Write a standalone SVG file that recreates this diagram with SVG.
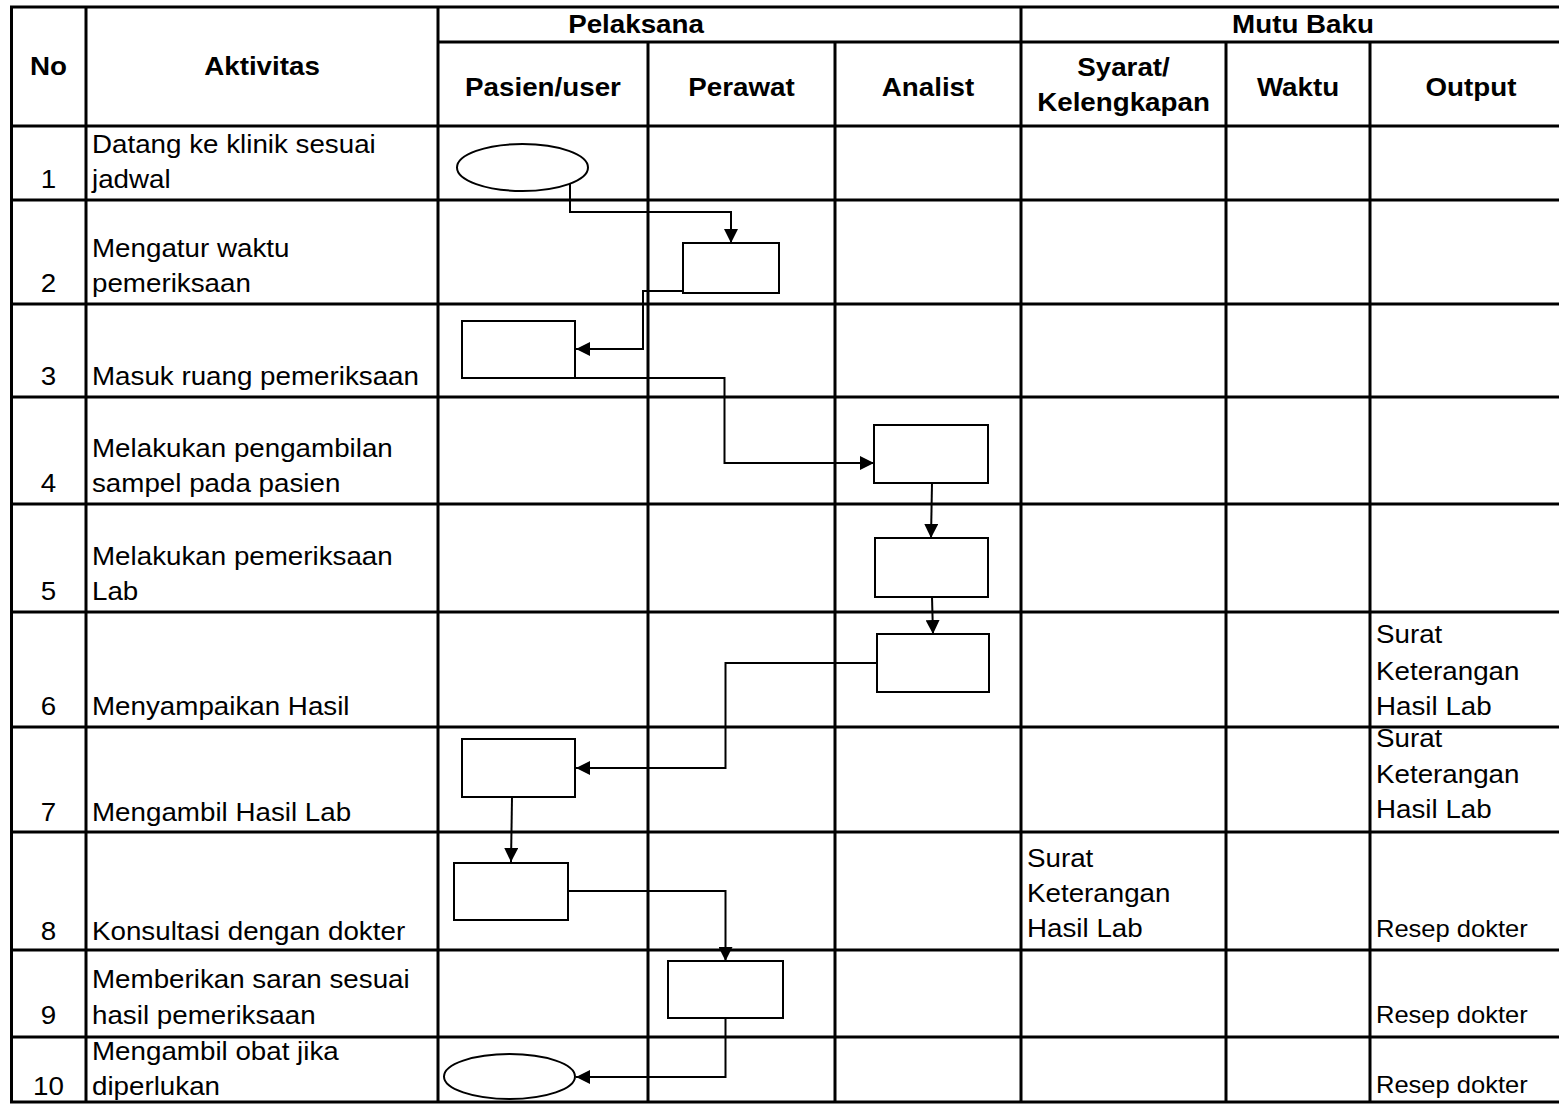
<svg xmlns="http://www.w3.org/2000/svg" width="1559" height="1104" viewBox="0 0 1559 1104">
<style>
.t{font-family:"Liberation Sans",Arial,sans-serif;font-size:25px;fill:#000}
.b{font-weight:bold}
.m{text-anchor:middle}
.s{font-size:23px}
.grid line{stroke:#000;stroke-width:3}
.shape{fill:#fff;stroke:#000;stroke-width:2}
.conn path{fill:none;stroke:#000;stroke-width:2}
</style>
<defs>
<marker id="arr" markerUnits="userSpaceOnUse" markerWidth="14" markerHeight="14" refX="14" refY="7" orient="auto">
<path d="M0,0 L14,7 L0,14 z" fill="#000"/>
</marker>
</defs>
<rect width="1559" height="1104" fill="#fff"/>
<g id="grid" class="grid">
<line x1="10" y1="7" x2="1559" y2="7"/>
<line x1="438" y1="42" x2="1559" y2="42"/>
<line x1="10" y1="126" x2="1559" y2="126"/>
<line x1="10" y1="200" x2="1559" y2="200"/>
<line x1="10" y1="304" x2="1559" y2="304"/>
<line x1="10" y1="397" x2="1559" y2="397"/>
<line x1="10" y1="504" x2="1559" y2="504"/>
<line x1="10" y1="612" x2="1559" y2="612"/>
<line x1="10" y1="727" x2="1559" y2="727"/>
<line x1="10" y1="832" x2="1559" y2="832"/>
<line x1="10" y1="950" x2="1559" y2="950"/>
<line x1="10" y1="1037" x2="1559" y2="1037"/>
<line x1="10" y1="1102" x2="1559" y2="1102"/>
<line x1="11.5" y1="6" x2="11.5" y2="1103"/>
<line x1="86" y1="6" x2="86" y2="1103"/>
<line x1="438" y1="6" x2="438" y2="1103"/>
<line x1="648" y1="42" x2="648" y2="1103"/>
<line x1="835" y1="42" x2="835" y2="1103"/>
<line x1="1021" y1="6" x2="1021" y2="1103"/>
<line x1="1226" y1="42" x2="1226" y2="1103"/>
<line x1="1370" y1="42" x2="1370" y2="1103"/>
</g>
<g id="header">
<text class="t b m" transform="translate(48.5,75) scale(1.11,1)">No</text>
<text class="t b m" transform="translate(262,75) scale(1.11,1)">Aktivitas</text>
<text class="t b m" transform="translate(636,33) scale(1.11,1)">Pelaksana</text>
<text class="t b m" transform="translate(1303,33) scale(1.11,1)">Mutu Baku</text>
<text class="t b m" transform="translate(543,96) scale(1.11,1)">Pasien/user</text>
<text class="t b m" transform="translate(741.5,96) scale(1.11,1)">Perawat</text>
<text class="t b m" transform="translate(928,96) scale(1.11,1)">Analist</text>
<text class="t b m" transform="translate(1123.5,76) scale(1.11,1)">Syarat/</text>
<text class="t b m" transform="translate(1123.5,111) scale(1.11,1)">Kelengkapan</text>
<text class="t b m" transform="translate(1298,96) scale(1.11,1)">Waktu</text>
<text class="t b m" transform="translate(1471,96) scale(1.11,1)">Output</text>
</g>
<g id="numbers">
<text class="t m" transform="translate(48.5,188) scale(1.11,1)">1</text>
<text class="t m" transform="translate(48.5,292) scale(1.11,1)">2</text>
<text class="t m" transform="translate(48.5,385) scale(1.11,1)">3</text>
<text class="t m" transform="translate(48.5,492) scale(1.11,1)">4</text>
<text class="t m" transform="translate(48.5,600) scale(1.11,1)">5</text>
<text class="t m" transform="translate(48.5,715) scale(1.11,1)">6</text>
<text class="t m" transform="translate(48.5,821) scale(1.11,1)">7</text>
<text class="t m" transform="translate(48.5,940) scale(1.11,1)">8</text>
<text class="t m" transform="translate(48.5,1024) scale(1.11,1)">9</text>
<text class="t m" transform="translate(48.5,1095) scale(1.11,1)">10</text>
</g>
<g id="activities">
<text class="t" transform="translate(92,153) scale(1.11,1)">Datang ke klinik sesuai</text>
<text class="t" transform="translate(92,188) scale(1.11,1)">jadwal</text>
<text class="t" transform="translate(92,257) scale(1.11,1)">Mengatur waktu</text>
<text class="t" transform="translate(92,292) scale(1.11,1)">pemeriksaan</text>
<text class="t" transform="translate(92,385) scale(1.11,1)">Masuk ruang pemeriksaan</text>
<text class="t" transform="translate(92,457) scale(1.11,1)">Melakukan pengambilan</text>
<text class="t" transform="translate(92,492) scale(1.11,1)">sampel pada pasien</text>
<text class="t" transform="translate(92,565) scale(1.11,1)">Melakukan pemeriksaan</text>
<text class="t" transform="translate(92,600) scale(1.11,1)">Lab</text>
<text class="t" transform="translate(92,715) scale(1.11,1)">Menyampaikan Hasil</text>
<text class="t" transform="translate(92,821) scale(1.11,1)">Mengambil Hasil Lab</text>
<text class="t" transform="translate(92,940) scale(1.11,1)">Konsultasi dengan dokter</text>
<text class="t" transform="translate(92,988) scale(1.11,1)">Memberikan saran sesuai</text>
<text class="t" transform="translate(92,1024) scale(1.11,1)">hasil pemeriksaan</text>
<text class="t" transform="translate(92,1060) scale(1.11,1)">Mengambil obat jika</text>
<text class="t" transform="translate(92,1095) scale(1.11,1)">diperlukan</text>
</g>
<g id="standards">
<text class="t" transform="translate(1376,643) scale(1.11,1)">Surat</text>
<text class="t" transform="translate(1376,680) scale(1.11,1)">Keterangan</text>
<text class="t" transform="translate(1376,715) scale(1.11,1)">Hasil Lab</text>
<text class="t" transform="translate(1376,747) scale(1.11,1)">Surat</text>
<text class="t" transform="translate(1376,783) scale(1.11,1)">Keterangan</text>
<text class="t" transform="translate(1376,818) scale(1.11,1)">Hasil Lab</text>
<text class="t" transform="translate(1027,867) scale(1.11,1)">Surat</text>
<text class="t" transform="translate(1027,902) scale(1.11,1)">Keterangan</text>
<text class="t" transform="translate(1027,937) scale(1.11,1)">Hasil Lab</text>
<text class="t s" transform="translate(1376,937) scale(1.11,1)">Resep dokter</text>
<text class="t s" transform="translate(1376,1023) scale(1.11,1)">Resep dokter</text>
<text class="t s" transform="translate(1376,1093) scale(1.11,1)">Resep dokter</text>
</g>
<g id="connectors" class="conn">
<path d="M570,184 V212 H731 V243" marker-end="url(#arr)"/>
<path d="M683,291 H643 V349 H576" marker-end="url(#arr)"/>
<path d="M575,378 H724.5 V463 H874" marker-end="url(#arr)"/>
<path d="M932,483 L931,538" marker-end="url(#arr)"/>
<path d="M932,597 L933,634" marker-end="url(#arr)"/>
<path d="M877,663 H725.5 V768 H576" marker-end="url(#arr)"/>
<path d="M512,797 L511,862" marker-end="url(#arr)"/>
<path d="M568,891 H725.5 V961" marker-end="url(#arr)"/>
<path d="M725.5,1018 V1077 H576" marker-end="url(#arr)"/>
</g>
<g id="n1"><ellipse class="shape" cx="522.5" cy="167.5" rx="65.5" ry="23.5"/></g>
<g id="n2"><rect class="shape" x="683" y="243" width="96" height="50"/></g>
<g id="n3"><rect class="shape" x="462" y="321" width="113" height="57"/></g>
<g id="n4"><rect class="shape" x="874" y="425" width="114" height="58"/></g>
<g id="n5"><rect class="shape" x="875" y="538" width="113" height="59"/></g>
<g id="n6"><rect class="shape" x="877" y="634" width="112" height="58"/></g>
<g id="n7"><rect class="shape" x="462" y="739" width="113" height="58"/></g>
<g id="n8"><rect class="shape" x="454" y="863" width="114" height="57"/></g>
<g id="n9"><rect class="shape" x="668" y="961" width="115" height="57"/></g>
<g id="n10"><ellipse class="shape" cx="509.5" cy="1076.5" rx="65.5" ry="22.5"/></g>
</svg>
